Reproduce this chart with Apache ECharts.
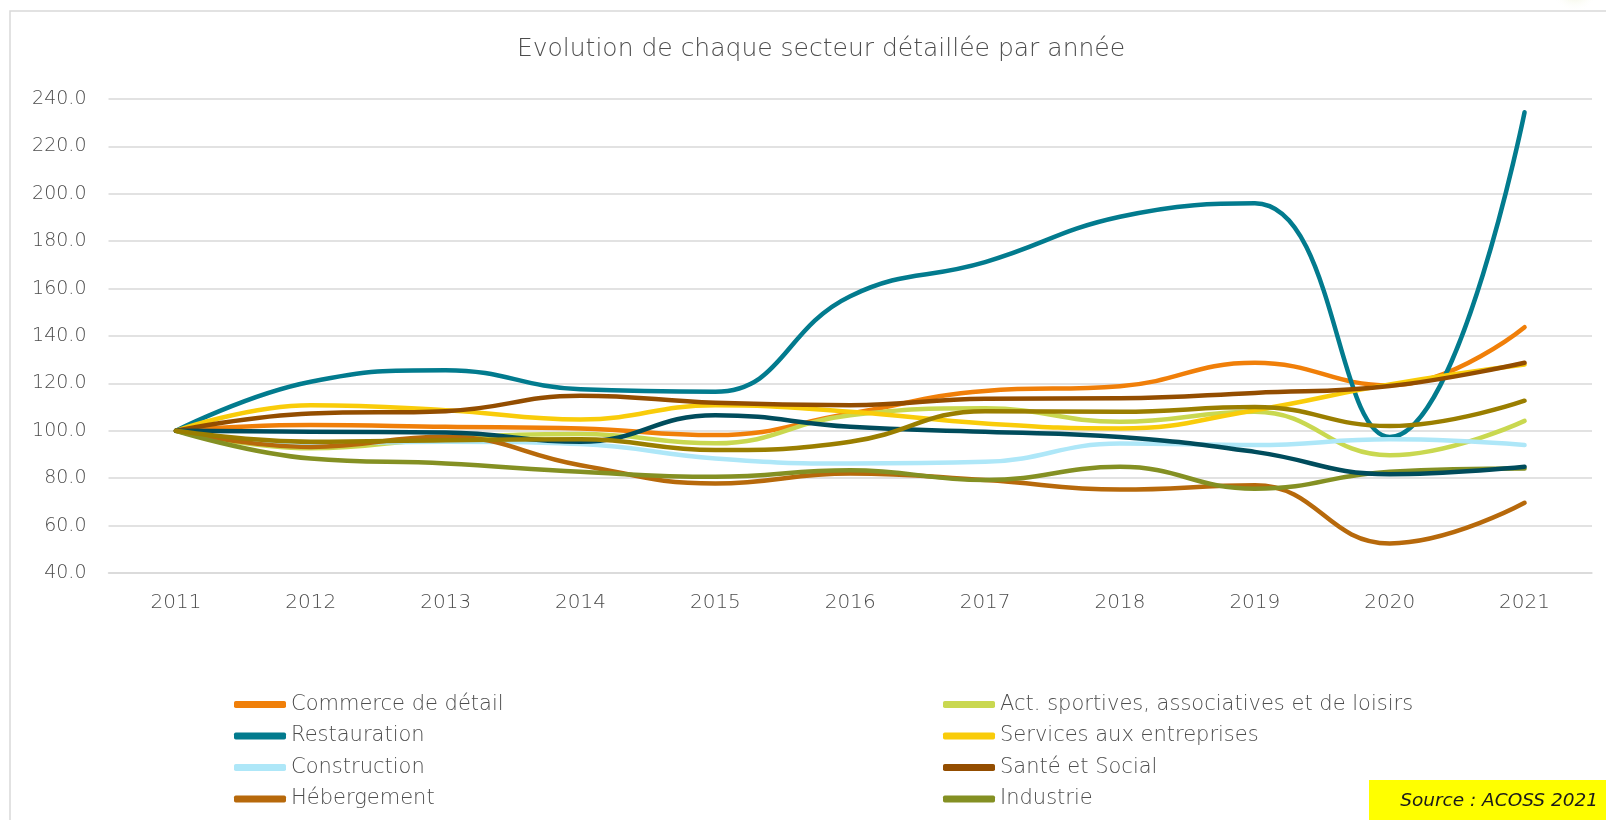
<!DOCTYPE html>
<html>
<head>
<meta charset="utf-8">
<script src="https://cdn.jsdelivr.net/npm/echarts@6/dist/echarts.min.js"></script>
<style>
  html, body { margin: 0; padding: 0; background: #ffffff; }
  #chart { width: 1606px; height: 820px; }
</style>
</head>
<body>
<div id="chart"></div>
<script>
// Years on the category axis
const years = ['2011', '2012', '2013', '2014', '2015', '2016', '2017', '2018', '2019', '2020', '2021'];

// Index of employment per sector (base 100 in 2011)
const commerce      = [100, 102.4, 101.7, 101.0, 98.2, 107.3, 116.8, 118.8, 128.7, 119.2, 143.7];
const sportLoisirs  = [100, 92.6, 96.8, 98.6, 94.7, 106.6, 109.5, 103.8, 108.0, 89.7, 104.2];
const restauration  = [100, 120.7, 125.6, 117.5, 116.5, 156.8, 171.2, 190.3, 196.0, 97.4, 234.4];
const services      = [100, 110.8, 108.7, 104.8, 110.8, 108.0, 103.1, 101.0, 108.7, 119.6, 128.0];
const construction  = [100, 94.7, 95.4, 94.4, 88.3, 86.2, 86.9, 94.6, 94.0, 96.4, 94.0];
const santeSocial   = [100, 107.3, 108.3, 114.8, 111.8, 110.8, 113.5, 113.7, 116.0, 118.9, 128.7];
const hebergement   = [100, 93.2, 97.5, 85.5, 77.8, 82.0, 79.2, 75.2, 77.0, 52.5, 69.6];
const industrie     = [100, 88.3, 86.2, 82.7, 80.6, 83.4, 79.2, 84.8, 75.6, 82.7, 84.1];
const serieNeuf     = [100, 99.6, 99.3, 95.4, 106.6, 101.7, 99.6, 97.4, 91.1, 81.7, 84.8];
const serieDix      = [100, 95.4, 96.0, 96.4, 91.9, 95.4, 108.3, 108.0, 110.0, 102.0, 112.7];

// Y axis ticks
const yMin = 40, yMax = 240, yStep = 20;

const seriesDefs = [
  { name: 'Commerce de détail', data: commerce, color: '#F07F09' },
  { name: 'Act. sportives, associatives et de loisirs', data: sportLoisirs, color: '#C9D850' },
  { name: 'Restauration', data: restauration, color: '#027B8E' },
  { name: 'Services aux entreprises', data: services, color: '#F9CC0A' },
  { name: 'Construction', data: construction, color: '#AEE7F8' },
  { name: 'Santé et Social', data: santeSocial, color: '#934D00' },
  { name: 'Hébergement', data: hebergement, color: '#B7690B' },
  { name: 'Industrie', data: industrie, color: '#849023' },
  { name: 'Série 9', data: serieNeuf, color: '#004C5C' },
  { name: 'Série 10', data: serieDix, color: '#9A7E00' }
];

const FONT = 'DejaVu Sans';
const TXT = '#4d4d4d';

const legendText = { fontFamily: FONT, fontWeight: 200, fontSize: 21, color: TXT, lineHeight: 20 };
const legendCommon = {
  orient: 'vertical',
  top: 689,
  icon: 'roundRect',
  itemWidth: 52,
  itemHeight: 7,
  itemGap: 10.5,
  textStyle: legendText,
  selectedMode: false
};

const chart = echarts.init(document.getElementById('chart'), null, { renderer: 'canvas' });

chart.setOption({
  backgroundColor: '#ffffff',
  animation: false,
  title: {
    text: 'Evolution de chaque secteur détaillée par année',
    left: 816,
    textAlign: 'center',
    top: 32,
    textStyle: { fontFamily: FONT, fontWeight: 200, fontSize: 25, color: TXT }
  },
  grid: { left: 108.5, right: 14, top: 99, bottom: 247, containLabel: false },
  xAxis: {
    type: 'category',
    data: years,
    boundaryGap: true,
    axisLine: { show: true, lineStyle: { color: '#D9D9D9', width: 1.5 } },
    axisTick: { show: false },
    axisLabel: { margin: 20, fontFamily: FONT, fontWeight: 200, fontSize: 20, color: TXT }
  },
  yAxis: {
    type: 'value',
    min: yMin,
    max: yMax,
    interval: yStep,
    axisLine: { show: false },
    axisTick: { show: false },
    splitLine: { lineStyle: { color: '#D9D9D9', width: 1.5 } },
    axisLabel: {
      margin: 22,
      fontFamily: FONT, fontWeight: 200, fontSize: 19, color: TXT,
      formatter: v => v.toFixed(1)
    }
  },
  legend: [
    Object.assign({}, legendCommon, {
      left: 229,
      data: ['Commerce de détail', 'Restauration', 'Construction', 'Hébergement']
    }),
    Object.assign({}, legendCommon, {
      left: 938,
      data: ['Act. sportives, associatives et de loisirs', 'Services aux entreprises', 'Santé et Social', 'Industrie']
    })
  ],
  series: seriesDefs.map(s => ({
    name: s.name,
    type: 'line',
    data: s.data,
    smooth: 0.45,
    showSymbol: false,
    symbol: 'none',
    color: s.color,
    lineStyle: { color: s.color, width: 4.5, cap: 'round', join: 'round' },
    itemStyle: { color: s.color },
    emphasis: { disabled: true }
  })),
  graphic: [
    {
      // faint decorative glow in the top-right corner
      type: 'ellipse',
      silent: true,
      shape: { cx: 1575, cy: -12, rx: 70, ry: 24 },
      style: {
        fill: {
          type: 'radial', x: 0.5, y: 0.5, r: 0.5,
          colorStops: [
            { offset: 0, color: '#E6ECC4' },
            { offset: 1, color: 'rgba(255,255,255,0)' }
          ]
        }
      }
    },
    {
      type: 'rect',
      silent: true,
      shape: { x: 10, y: 11, width: 1620, height: 840 },
      style: { fill: 'none', stroke: '#D9D9D9', lineWidth: 1.5 }
    },
    {
      type: 'rect',
      silent: true,
      shape: { x: 1369, y: 780, width: 237, height: 40 },
      style: { fill: '#FFFF00' }
    },
    {
      type: 'text',
      silent: true,
      style: {
        x: 1598, y: 801,
        text: 'Source : ACOSS 2021',
        align: 'right',
        verticalAlign: 'middle',
        fontFamily: FONT,
        fontStyle: 'italic',
        fontWeight: 200,
        fontSize: 18.5,
        fill: '#1a1a1a'
      }
    }
  ]
});
</script>
</body>
</html>
